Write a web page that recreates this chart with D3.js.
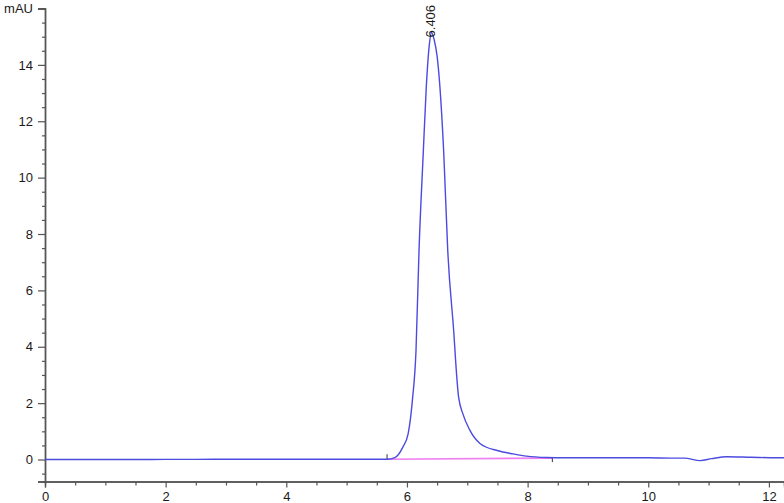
<!DOCTYPE html>
<html>
<head>
<meta charset="utf-8">
<script src="https://cdn.jsdelivr.net/npm/d3@7"></script>
<style>
  html, body { margin: 0; padding: 0; background: #fff; }
  svg { display: block; }
  text { font-family: "Liberation Sans", Arial, sans-serif; }
</style>
</head>
<body>
<svg id="chart" width="784" height="503"></svg>
<script>
// ---- data ----
const times = [0, 0.5, 1, 1.5, 2, 2.5, 3, 3.5, 4, 4.5, 5, 5.5, 5.67, 5.8, 5.93, 6.02, 6.09, 6.15, 6.2, 6.27, 6.32, 6.37, 6.406, 6.45, 6.5, 6.547, 6.61, 6.676, 6.78, 6.81, 6.855, 6.93, 7.04, 7.21, 7.51, 7.76, 7.98, 8.31, 8.6, 9.0, 9.5, 10.0, 10.4, 10.6, 10.86, 11.05, 11.3, 11.7, 12.13, 12.25];
const signal = [0, 0, 0, 0, 0.005, 0.005, 0.01, 0.01, 0.01, 0.01, 0.01, 0.01, 0.01, 0.07, 0.43, 0.92, 2.10, 3.87, 7.42, 10.87, 13.2, 14.7, 15.15, 14.9, 14.3, 13.2, 10.87, 7.42, 4.4, 3.4, 2.23, 1.6, 1.05, 0.57, 0.31, 0.2, 0.12, 0.07, 0.06, 0.06, 0.06, 0.06, 0.05, 0.05, -0.04, 0.03, 0.1, 0.08, 0.06, 0.06];
const baselineTimes = [5.67, 8.41];
const baselineValues = [0.01, 0.05];
const peakTimes = [6.406];
const peakValues = [15.15];
const peakLabels = ["6.406"];
const xMajorTicks = [0, 2, 4, 6, 8, 10, 12];
const yMajorTicks = [0, 2, 4, 6, 8, 10, 12, 14];
const yUnitLabel = "mAU";

// ---- layout ----
const svg = d3.select("#chart");
const x = d3.scaleLinear().domain([0, 12.25]).range([45, 784]);
const y = d3.scaleLinear().domain([-0.78, 16]).range([481.5, 8.5]);

const axisColor = "#555";
const textColor = "#1a1a1a";
const fontSize = 13;

const xMinor = d3.range(0, 12.26, 0.5).filter(v => xMajorTicks.indexOf(v) < 0);
const yMinor = d3.range(-0.5, 16.01, 0.5).filter(v => yMajorTicks.indexOf(v) < 0 && v !== 16);

// x axis
const gx = svg.append("g").attr("transform", `translate(0,${y.range()[0]})`);
gx.call(d3.axisBottom(x).tickValues(xMajorTicks).tickSize(6).tickPadding(4).tickFormat(d3.format("d")));
gx.append("g").call(d3.axisBottom(x).tickValues(xMinor).tickSize(4).tickFormat(""));

// y axis
const gy = svg.append("g").attr("transform", `translate(${x.range()[0]},0)`);
gy.call(d3.axisLeft(y).tickValues(yMajorTicks).tickSize(7).tickPadding(5).tickFormat(d3.format("d")));
gy.append("g").call(d3.axisLeft(y).tickValues(yMinor).tickSize(3).tickFormat(""));
gy.append("g").call(d3.axisLeft(y).tickValues([16]).tickSize(7).tickPadding(5).tickFormat(() => yUnitLabel));

svg.selectAll(".domain").attr("stroke", axisColor).attr("stroke-width", 1.3);
svg.selectAll(".tick line").attr("stroke", axisColor).attr("stroke-width", 1.2);
svg.selectAll(".tick text").attr("fill", textColor).attr("font-size", fontSize)
  .attr("font-family", "'Liberation Sans', Arial, sans-serif");

// baseline (integration)
const blData = baselineTimes.map((t, i) => [t, baselineValues[i]]);
svg.append("path")
  .datum(blData)
  .attr("fill", "none")
  .attr("stroke", "#f080f0")
  .attr("stroke-width", 1.6)
  .attr("d", d3.line().x(d => x(d[0])).y(d => y(d[1])));
// baseline start / end markers
svg.append("line")
  .attr("x1", x(baselineTimes[0])).attr("x2", x(baselineTimes[0]))
  .attr("y1", y(baselineValues[0])).attr("y2", y(baselineValues[0]) - 5)
  .attr("stroke", "#333").attr("stroke-width", 1);
svg.append("line")
  .attr("x1", x(baselineTimes[1])).attr("x2", x(baselineTimes[1]))
  .attr("y1", y(baselineValues[1])).attr("y2", y(baselineValues[1]) + 4)
  .attr("stroke", "#333").attr("stroke-width", 1);

// signal trace
const data = times.map((t, i) => [t, signal[i]]);
svg.append("path")
  .datum(data)
  .attr("fill", "none")
  .attr("stroke", "#4b4be0")
  .attr("stroke-width", 1.4)
  .attr("d", d3.line().curve(d3.curveMonotoneX).x(d => x(d[0])).y(d => y(d[1])));

// peak label
peakTimes.forEach((t, i) => {
  const px = x(t), py = y(peakValues[i]);
  svg.append("text")
    .attr("transform", `translate(${px + 4},${py + 5}) rotate(-90)`)
    .attr("text-anchor", "start")
    .attr("font-size", fontSize)
    .attr("fill", textColor)
    .text(peakLabels[i]);
});
</script>
</body>
</html>
